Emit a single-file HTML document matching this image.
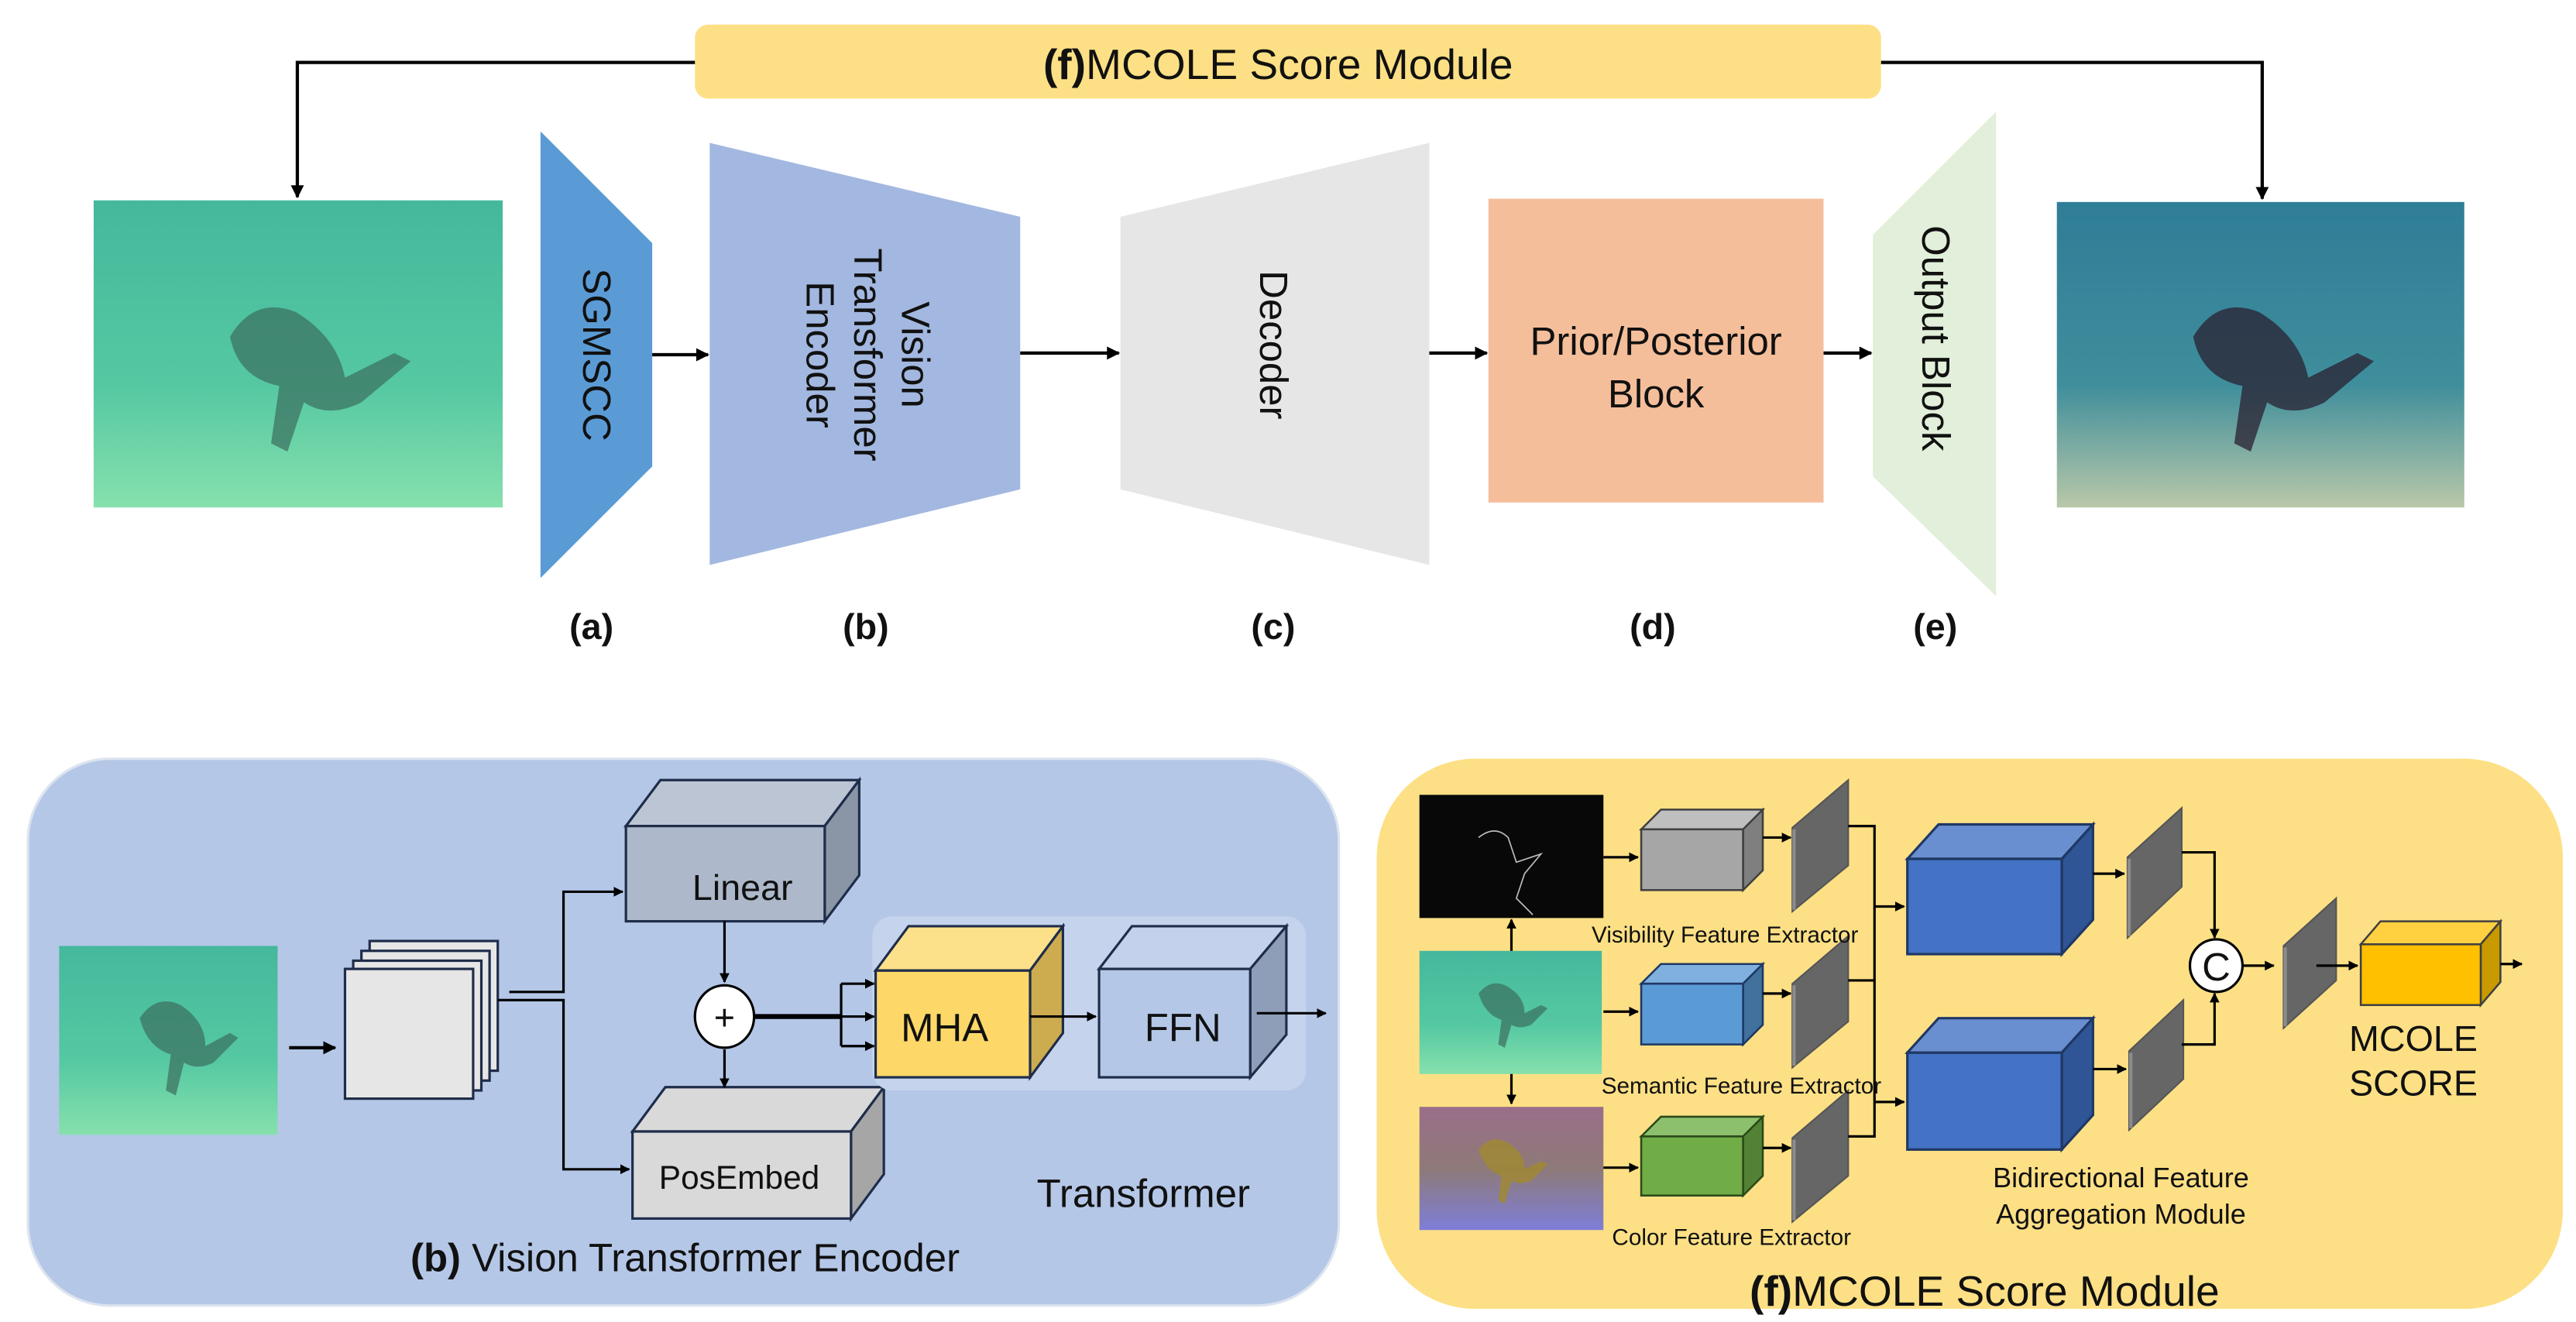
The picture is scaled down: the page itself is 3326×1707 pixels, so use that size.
<!DOCTYPE html>
<html><head><meta charset="utf-8"><style>html,body{margin:0;padding:0;background:#fff}svg{display:block}text{font-family:"Liberation Sans",sans-serif;fill:#111}</style></head><body>
<svg width="3326" height="1707" viewBox="0 0 1568 805" preserveAspectRatio="none" xmlns="http://www.w3.org/2000/svg">
<defs>
<marker id="a" viewBox="0 0 10 10" refX="9" refY="5" markerWidth="4" markerHeight="4" orient="auto"><path d="M0,0L10,5L0,10z" fill="#000"/></marker>
<linearGradient id="teal" x1="0" y1="0" x2="0" y2="1"><stop offset="0" stop-color="#45b89c"/><stop offset="0.6" stop-color="#55c8a2"/><stop offset="1" stop-color="#86e0ad"/></linearGradient>
<linearGradient id="blue" x1="0" y1="0" x2="0" y2="1"><stop offset="0" stop-color="#2f7d97"/><stop offset="0.6" stop-color="#3f8e9c"/><stop offset="1" stop-color="#b9c8a8"/></linearGradient>
<linearGradient id="col" x1="0" y1="0" x2="0" y2="1"><stop offset="0" stop-color="#9a6e8a"/><stop offset="0.5" stop-color="#8e7a78"/><stop offset="1" stop-color="#7e7ed8"/></linearGradient>
</defs>

<!-- top banner -->
<rect x="423" y="15" width="722" height="45" rx="8" fill="#fde085"/>
<text x="778" y="48" font-size="26" text-anchor="middle"><tspan font-weight="bold">(f)</tspan>MCOLE Score Module</text>
<polyline points="423,38 181,38 181,120" fill="none" stroke="#000" stroke-width="2" marker-end="url(#a)"/>
<polyline points="1145,38 1377,38 1377,121" fill="none" stroke="#000" stroke-width="2" marker-end="url(#a)"/>

<!-- images -->
<rect x="57" y="122" width="249" height="187" fill="url(#teal)"/>
<path d="M140,205 q15,-25 40,-15 q25,15 30,40 l30,-15 l10,5 l-30,25 q-20,10 -35,0 l-10,30 l-10,-5 l5,-35 q-25,-5 -30,-30z" fill="#3a6e5e" opacity="0.7"/>
<rect x="1252" y="123" width="248" height="186" fill="url(#blue)"/>
<path d="M1335,205 q15,-25 40,-15 q25,15 30,40 l30,-15 l10,5 l-30,25 q-20,10 -35,0 l-10,30 l-10,-5 l5,-35 q-25,-5 -30,-30z" fill="#2a2030" opacity="0.75"/>

<!-- pipeline -->
<polygon points="329,80 397,148 397,284 329,352" fill="#5b9bd5"/>
<text transform="translate(363,216) rotate(90)" font-size="24" text-anchor="middle" dy="8">SGMSCC</text>
<line x1="397" y1="216" x2="431" y2="216" stroke="#000" stroke-width="2" marker-end="url(#a)"/>
<polygon points="432,87 621,132 621,298 432,344" fill="#a3b8e0"/>
<text transform="translate(527,216) rotate(90)" font-size="24" text-anchor="middle"><tspan x="0" dy="-22">Vision</tspan><tspan x="0" dy="29">Transformer</tspan><tspan x="0" dy="29">Encoder</tspan></text>
<line x1="621" y1="215" x2="681" y2="215" stroke="#000" stroke-width="2" marker-end="url(#a)"/>
<polygon points="682,132 870,87 870,344 682,298" fill="#e6e6e6"/>
<text transform="translate(775,210) rotate(90)" font-size="24" text-anchor="middle" dy="8">Decoder</text>
<line x1="870" y1="215" x2="905" y2="215" stroke="#000" stroke-width="2" marker-end="url(#a)"/>
<rect x="906" y="121" width="204" height="185" fill="#f5be9a"/>
<text x="1008" y="216" font-size="24" text-anchor="middle">Prior/Posterior</text>
<text x="1008" y="248" font-size="24" text-anchor="middle">Block</text>
<line x1="1110" y1="215" x2="1139" y2="215" stroke="#000" stroke-width="2" marker-end="url(#a)"/>
<polygon points="1140,143 1215,68 1215,363 1140,290" fill="#e2efda"/>
<text transform="translate(1178,206) rotate(90)" font-size="24" text-anchor="middle" dy="8">Output Block</text>
<g font-size="22" font-weight="bold" text-anchor="middle"><text x="360" y="389">(a)</text><text x="527" y="389">(b)</text><text x="775" y="389">(c)</text><text x="1006" y="389">(d)</text><text x="1178" y="389">(e)</text></g>

<!-- bottom left panel -->
<rect x="17" y="462" width="798" height="333" rx="50" fill="#b4c7e7" stroke="#dde4ef" stroke-width="1.5"/>
<rect x="36" y="576" width="133" height="115" fill="url(#teal)"/>
<path d="M85,620 q10,-15 25,-8 q15,10 15,25 l15,-8 l5,3 l-15,15 q-10,5 -18,0 l-5,20 l-6,-3 l3,-22 q-14,-4 -19,-22z" fill="#3a6e5e" opacity="0.7"/>
<line x1="176" y1="638" x2="204" y2="638" stroke="#000" stroke-width="2" marker-end="url(#a)"/>
<g fill="#e6e6e6" stroke="#1f2d4a" stroke-width="1.5">
<rect x="225" y="573" width="78" height="79"/><rect x="220" y="579" width="78" height="79"/><rect x="215" y="585" width="78" height="79"/><rect x="210" y="590" width="78" height="79"/></g>
<polyline points="310,604 343,604 343,543 379,543" fill="none" stroke="#000" stroke-width="1.5" marker-end="url(#a)"/>
<polyline points="303,609 343,609 343,712 383,712" fill="none" stroke="#000" stroke-width="1.5" marker-end="url(#a)"/>
<g stroke="#1f2d4a" stroke-width="1.5">
<polygon points="381,503 402,475 523,475 502,503" fill="#bcc5d4"/><polygon points="502,503 523,475 523,533 502,561" fill="#8a96a6"/><rect x="381" y="503" width="121" height="58" fill="#adb9ca"/>
<polygon points="385,689 405,662 538,662 518,689" fill="#d9d9d9"/><polygon points="518,689 538,662 538,715 518,742" fill="#a6a6a6"/><rect x="385" y="689" width="133" height="53" fill="#d9d9d9"/>
</g>
<text x="452" y="548" font-size="22" text-anchor="middle">Linear</text>
<text x="450" y="724" font-size="20" text-anchor="middle">PosEmbed</text>
<line x1="441" y1="561" x2="441" y2="598" stroke="#000" stroke-width="1.5" marker-end="url(#a)"/>
<line x1="441" y1="639" x2="441" y2="662" stroke="#000" stroke-width="1.5" marker-end="url(#a)"/>
<ellipse cx="441" cy="619" rx="18" ry="19" fill="#fff" stroke="#000" stroke-width="1.5"/>
<text x="441" y="627" font-size="22" text-anchor="middle">+</text>
<rect x="531" y="558" width="264" height="106" rx="12" fill="#c5d3ec"/>
<line x1="459" y1="619" x2="512" y2="619" stroke="#000" stroke-width="3"/>
<line x1="512" y1="599" x2="512" y2="637" stroke="#000" stroke-width="1.5"/>
<line x1="512" y1="599" x2="532" y2="599" stroke="#000" stroke-width="1.5" marker-end="url(#a)"/>
<line x1="512" y1="619" x2="532" y2="619" stroke="#000" stroke-width="1.5" marker-end="url(#a)"/>
<line x1="512" y1="637" x2="532" y2="637" stroke="#000" stroke-width="1.5" marker-end="url(#a)"/>
<g stroke="#1f2d4a" stroke-width="1.5">
<polygon points="533,591 553,564 647,564 627,591" fill="#fde08a"/><polygon points="627,591 647,564 647,629 627,656" fill="#cdac50"/><rect x="533" y="591" width="94" height="65" fill="#fdd868"/>
<polygon points="669,590 689,564 783,564 761,590" fill="#c3d1ec"/><polygon points="761,590 783,564 783,630 761,656" fill="#8e9eb8"/><rect x="669" y="590" width="92" height="66" fill="#b4c7e7"/>
</g>
<text x="575" y="634" font-size="24" text-anchor="middle">MHA</text>
<text x="720" y="634" font-size="24" text-anchor="middle">FFN</text>
<line x1="627" y1="619" x2="667" y2="619" stroke="#000" stroke-width="1.5" marker-end="url(#a)"/>
<line x1="765" y1="617" x2="807" y2="617" stroke="#000" stroke-width="1.5" marker-end="url(#a)"/>
<text x="696" y="735" font-size="24" text-anchor="middle">Transformer</text>
<text x="417" y="774" font-size="24" text-anchor="middle"><tspan font-weight="bold">(b)</tspan> Vision Transformer Encoder</text>

<!-- bottom right panel -->
<rect x="838" y="462" width="722" height="335" rx="60" fill="#fde085"/>
<rect x="864" y="484" width="112" height="75" fill="#080808"/>
<path d="M900,510 q10,-8 18,0 l5,15 l15,-5 l-10,12 l-5,15 l10,10" fill="none" stroke="#bbb" stroke-width="0.8"/>
<rect x="864" y="579" width="111" height="75" fill="url(#teal)"/>
<path d="M900,605 q8,-10 18,-4 q10,6 10,16 l10,-5 l4,2 l-10,10 q-7,3 -12,0 l-4,14 l-4,-2 l2,-15 q-10,-3 -14,-16z" fill="#3a6e5e" opacity="0.7"/>
<rect x="864" y="674" width="112" height="75" fill="url(#col)"/>
<path d="M900,700 q8,-10 18,-4 q10,6 10,16 l10,-5 l4,2 l-10,10 q-7,3 -12,0 l-4,14 l-4,-2 l2,-15 q-10,-3 -14,-16z" fill="#a08a30" opacity="0.8"/>
<line x1="920" y1="579" x2="920" y2="560" stroke="#000" stroke-width="1.5" marker-end="url(#a)"/>
<line x1="920" y1="654" x2="920" y2="672" stroke="#000" stroke-width="1.5" marker-end="url(#a)"/>
<line x1="976" y1="522" x2="997" y2="522" stroke="#000" stroke-width="1.5" marker-end="url(#a)"/>
<line x1="976" y1="616" x2="997" y2="616" stroke="#000" stroke-width="1.5" marker-end="url(#a)"/>
<line x1="976" y1="711" x2="997" y2="711" stroke="#000" stroke-width="1.5" marker-end="url(#a)"/>
<g stroke="#404040" stroke-width="1.2">
<polygon points="999,505 1011,493 1073,493 1061,505" fill="#bfbfbf"/><polygon points="1061,505 1073,493 1073,530 1061,542" fill="#7f7f7f"/><rect x="999" y="505" width="62" height="37" fill="#a6a6a6"/>
<polygon points="999,599 1011,587 1073,587 1061,599" fill="#7fb0e0" stroke="#1f3864"/><polygon points="1061,599 1073,587 1073,624 1061,636" fill="#41719c" stroke="#1f3864"/><rect x="999" y="599" width="62" height="37" fill="#5b9bd5" stroke="#1f3864"/>
<polygon points="999,692 1011,680 1073,680 1061,692" fill="#8cc06d" stroke="#2a4a1a"/><polygon points="1061,692 1073,680 1073,716 1061,728" fill="#548235" stroke="#2a4a1a"/><rect x="999" y="692" width="62" height="36" fill="#70ad47" stroke="#2a4a1a"/>
</g>
<line x1="1073" y1="510" x2="1090" y2="510" stroke="#000" stroke-width="1.5" marker-end="url(#a)"/>
<line x1="1073" y1="605" x2="1090" y2="605" stroke="#000" stroke-width="1.5" marker-end="url(#a)"/>
<line x1="1073" y1="699" x2="1090" y2="699" stroke="#000" stroke-width="1.5" marker-end="url(#a)"/>
<g fill="#666" stroke="#555" stroke-width="1">
<polygon points="1091,555 1091,504 1125,475 1125,527"/><polygon points="1091,650 1091,599 1125,570 1125,622"/><polygon points="1091,744 1091,693 1125,664 1125,716"/>
<polygon points="1295,571 1295,522 1328,492 1328,540"/><polygon points="1296,688 1296,640 1329,609 1329,657"/>
<polygon points="1390,626 1390,576 1422,547 1422,597"/>
</g>
<g stroke="#8c8c8c" stroke-width="2"><line x1="1092" y1="505" x2="1092" y2="554"/><line x1="1092" y1="600" x2="1092" y2="649"/><line x1="1092" y1="694" x2="1092" y2="743"/><line x1="1296" y1="523" x2="1296" y2="570"/><line x1="1297" y1="641" x2="1297" y2="687"/><line x1="1391" y1="577" x2="1391" y2="625"/></g>
<g fill="none" stroke="#000" stroke-width="1.5">
<polyline points="1125,503 1141,503 1141,692 1125,692"/><line x1="1125" y1="597" x2="1141" y2="597"/>
<polyline points="1328,519 1348,519 1348,571" marker-end="url(#a)"/>
<polyline points="1328,636 1348,636 1348,605" marker-end="url(#a)"/>
</g>
<line x1="1141" y1="552" x2="1159" y2="552" stroke="#000" stroke-width="1.5" marker-end="url(#a)"/>
<line x1="1141" y1="671" x2="1159" y2="671" stroke="#000" stroke-width="1.5" marker-end="url(#a)"/>
<g stroke="#1f3864" stroke-width="1.5">
<polygon points="1161,523 1180,502 1274,502 1255,523" fill="#6a8fd0"/><polygon points="1255,523 1274,502 1274,560 1255,581" fill="#2f5597"/><rect x="1161" y="523" width="94" height="58" fill="#4472c4"/>
<polygon points="1161,641 1180,620 1274,620 1255,641" fill="#6a8fd0"/><polygon points="1255,641 1274,620 1274,679 1255,700" fill="#2f5597"/><rect x="1161" y="641" width="94" height="59" fill="#4472c4"/>
</g>
<line x1="1274" y1="532" x2="1293" y2="532" stroke="#000" stroke-width="1.5" marker-end="url(#a)"/>
<line x1="1274" y1="651" x2="1294" y2="651" stroke="#000" stroke-width="1.5" marker-end="url(#a)"/>
<circle cx="1349" cy="588" r="16" fill="#fff" stroke="#000" stroke-width="1.5"/>
<text x="1349" y="597" font-size="24" text-anchor="middle">C</text>
<line x1="1365" y1="588" x2="1384" y2="588" stroke="#000" stroke-width="1.5" marker-end="url(#a)"/>
<line x1="1410" y1="588" x2="1435" y2="588" stroke="#000" stroke-width="1.5" marker-end="url(#a)"/>
<g stroke="#404040" stroke-width="1.2">
<polygon points="1437,575 1449,561 1522,561 1510,575" fill="#ffd040"/><polygon points="1510,575 1522,561 1522,598 1510,612" fill="#c89a00"/><rect x="1437" y="575" width="73" height="37" fill="#ffc000"/>
</g>
<line x1="1522" y1="587" x2="1535" y2="587" stroke="#000" stroke-width="1.5" marker-end="url(#a)"/>
<text x="1469" y="640" font-size="22" text-anchor="middle">MCOLE</text>
<text x="1469" y="667" font-size="22" text-anchor="middle">SCORE</text>
<text x="1050" y="574" font-size="14" text-anchor="middle">Visibility Feature Extractor</text>
<text x="1060" y="666" font-size="14" text-anchor="middle">Semantic Feature Extractor</text>
<text x="1054" y="758" font-size="14" text-anchor="middle">Color Feature Extractor</text>
<text x="1291" y="723" font-size="17" text-anchor="middle">Bidirectional Feature</text>
<text x="1291" y="745" font-size="17" text-anchor="middle">Aggregation Module</text>
<text x="1208" y="795" font-size="26" text-anchor="middle"><tspan font-weight="bold">(f)</tspan>MCOLE Score Module</text>
</svg>
</body></html>
